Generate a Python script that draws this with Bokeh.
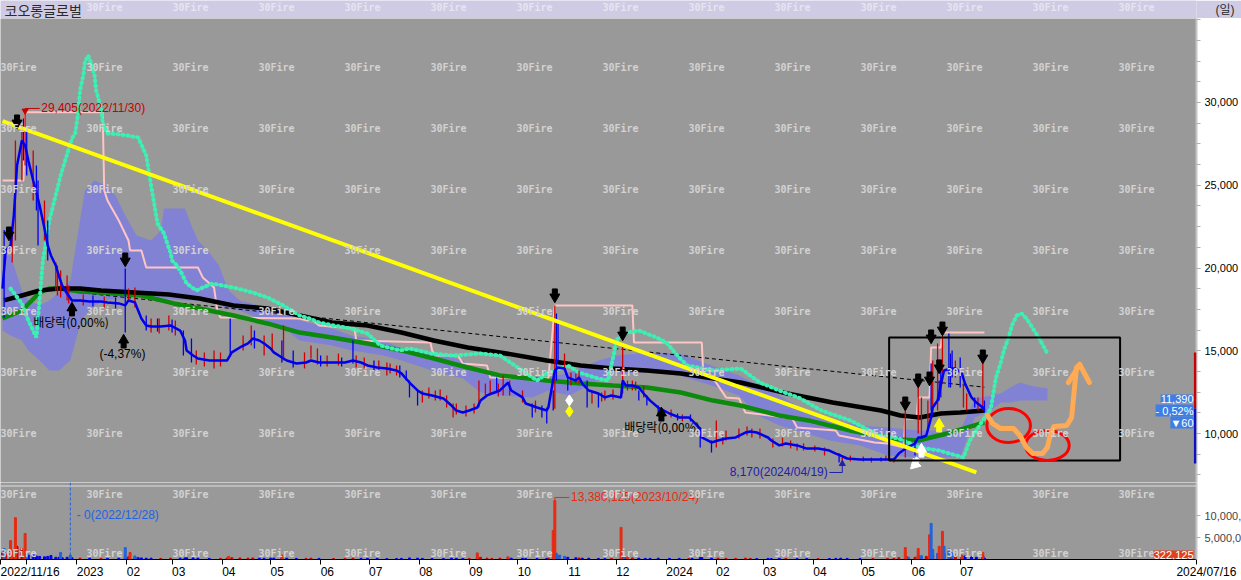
import pandas as pd
from bokeh.plotting import figure
from bokeh.layouts import column
from bokeh.models import (Range1d, FixedTicker, NumeralTickFormatter, Label, BoxAnnotation, Span,
                          AllLabels)
from bokeh.core.properties import value
from bokeh.embed import file_html
from bokeh.resources import INLINE

# ---------------------------------------------------------------- data
START_DATE = "2022-11-16"
TITLE = "코오롱글로벌"
PERIOD = "(일)"

# (date, close, volume in millions)
close_series = [
    ("2022-11-16", 18760, 1.5), ("2022-11-18", 21060, 1.2), ("2022-11-21", 21360, 1.0),
    ("2022-11-23", 23170, 1.5), ("2022-11-25", 26190, 3.0), ("2022-11-28", 27700, 2.5),
    ("2022-11-30", 27400, 1.1), ("2022-12-02", 26500, 1.0), ("2022-12-05", 25290, 1.2),
    ("2022-12-07", 24560, 0.8), ("2022-12-09", 23780, 0.7), ("2022-12-12", 22390, 0.6),
    ("2022-12-14", 21360, 0.7), ("2022-12-16", 20760, 0.9), ("2022-12-19", 20150, 0.5),
    ("2022-12-21", 19490, 0.5), ("2022-12-23", 18940, 0.4), ("2022-12-26", 18460, 0.5),
    ("2022-12-29", 18040, 0.4), ("2023-01-03", 18040, 0.3), ("2023-01-09", 17980, 0.3),
    ("2023-01-16", 17980, 0.25), ("2023-01-20", 17920, 0.25), ("2023-01-27", 17860, 0.3),
    ("2023-01-31", 17740, 0.4), ("2023-02-02", 18040, 0.6), ("2023-02-06", 17920, 0.5),
    ("2023-02-08", 17430, 0.4), ("2023-02-10", 16950, 0.35), ("2023-02-13", 16530, 0.3),
    ("2023-02-16", 16470, 0.3), ("2023-02-22", 16470, 0.25), ("2023-02-28", 16530, 0.3),
    ("2023-03-06", 16220, 0.3), ("2023-03-09", 15620, 0.35), ("2023-03-10", 15020, 0.4),
    ("2023-03-14", 14710, 0.35), ("2023-03-17", 14530, 0.3), ("2023-03-24", 14410, 0.25),
    ("2023-03-31", 14410, 0.25), ("2023-04-04", 14410, 0.3), ("2023-04-07", 14900, 0.4),
    ("2023-04-12", 15200, 0.35), ("2023-04-17", 15440, 0.3), ("2023-04-20", 15740, 0.35),
    ("2023-04-24", 15620, 0.3), ("2023-04-27", 15440, 0.25), ("2023-05-01", 15140, 0.3),
    ("2023-05-03", 14900, 0.3), ("2023-05-08", 14590, 0.35), ("2023-05-11", 14410, 0.3),
    ("2023-05-17", 14230, 0.25), ("2023-05-23", 14290, 0.25), ("2023-05-26", 14410, 0.3),
    ("2023-05-31", 14290, 0.25), ("2023-06-09", 14290, 0.2), ("2023-06-16", 14290, 0.2),
    ("2023-06-21", 14410, 0.3), ("2023-06-26", 14290, 0.25), ("2023-06-30", 14110, 0.25),
    ("2023-07-06", 13990, 0.25), ("2023-07-12", 13930, 0.2), ("2023-07-18", 13810, 0.2),
    ("2023-07-21", 13630, 0.25), ("2023-07-26", 13080, 0.35), ("2023-07-31", 12600, 0.3),
    ("2023-08-03", 12420, 0.25), ("2023-08-09", 12300, 0.2), ("2023-08-16", 12120, 0.2),
    ("2023-08-21", 11690, 0.3), ("2023-08-24", 11390, 0.25), ("2023-08-28", 11270, 0.2),
    ("2023-09-01", 11390, 0.25), ("2023-09-06", 11570, 0.4), ("2023-09-08", 11990, 0.5),
    ("2023-09-12", 12300, 0.3), ("2023-09-15", 12420, 0.25), ("2023-09-20", 12600, 0.3),
    ("2023-09-25", 13080, 0.4), ("2023-09-27", 12600, 0.3), ("2023-10-04", 12180, 0.25),
    ("2023-10-06", 11810, 0.2), ("2023-10-13", 11570, 0.2), ("2023-10-19", 11390, 0.25),
    ("2023-10-20", 11570, 0.3), ("2023-10-24", 13810, 0.5), ("2023-10-26", 13990, 0.9),
    ("2023-10-30", 13930, 0.6), ("2023-11-01", 13390, 0.5), ("2023-11-06", 13200, 0.4),
    ("2023-11-08", 13390, 0.35), ("2023-11-10", 13020, 0.3), ("2023-11-14", 12600, 0.3),
    ("2023-11-20", 12420, 0.25), ("2023-11-24", 12180, 0.2), ("2023-11-28", 12300, 0.25),
    ("2023-12-04", 12180, 0.3), ("2023-12-05", 13200, 0.6), ("2023-12-07", 12900, 0.5),
    ("2023-12-11", 12900, 0.35), ("2023-12-15", 12780, 0.3), ("2023-12-19", 12300, 0.25),
    ("2023-12-22", 11990, 0.25), ("2023-12-27", 11570, 0.3), ("2024-01-03", 11210, 0.25),
    ("2024-01-09", 10970, 0.25), ("2024-01-15", 10970, 0.2), ("2024-01-17", 10790, 0.25),
    ("2024-01-22", 10300, 0.4), ("2024-01-23", 9760, 0.45), ("2024-01-29", 9460, 0.3),
    ("2024-02-02", 9580, 0.3), ("2024-02-07", 9700, 0.25), ("2024-02-13", 9760, 0.25),
    ("2024-02-19", 10060, 0.3), ("2024-02-22", 10120, 0.25), ("2024-02-26", 10060, 0.2),
    ("2024-03-04", 9760, 0.25), ("2024-03-06", 9580, 0.2), ("2024-03-11", 9280, 0.25),
    ("2024-03-15", 9400, 0.2), ("2024-03-22", 9280, 0.2), ("2024-03-28", 9090, 0.2),
    ("2024-04-04", 9090, 0.2), ("2024-04-11", 8970, 0.2), ("2024-04-15", 8790, 0.25),
    ("2024-04-18", 8670, 0.3), ("2024-04-22", 8490, 0.25), ("2024-04-30", 8430, 0.2),
    ("2024-05-08", 8430, 0.2), ("2024-05-17", 8430, 0.2), ("2024-05-21", 8430, 0.25),
    ("2024-05-24", 8790, 0.4), ("2024-05-29", 9150, 0.6), ("2024-06-03", 9390, 0.5),
    ("2024-06-05", 9760, 1.0), ("2024-06-07", 9760, 0.8), ("2024-06-10", 9880, 0.7),
    ("2024-06-13", 10970, 1.2), ("2024-06-14", 11570, 1.0), ("2024-06-17", 11990, 1.3),
    ("2024-06-20", 13380, 1.5), ("2024-06-21", 13810, 1.4), ("2024-06-25", 13930, 1.2),
    ("2024-06-28", 13930, 1.0), ("2024-07-02", 13630, 0.9), ("2024-07-04", 13020, 0.8),
    ("2024-07-08", 12180, 0.6), ("2024-07-11", 11870, 0.5), ("2024-07-15", 11570, 0.8),
    ("2024-07-16", 11390, 0.32),
]

# (date, high, low, up-day)
wicks = [
    ("2022-11-17", 22300, 17000, 0), ("2022-11-22", 22270, 20330, 1), ("2022-11-24", 27700, 21660, 1),
    ("2022-11-28", 28610, 25290, 1), ("2022-11-29", 29030, 26500, 0), ("2022-11-30", 29405, 26190, 1),
    ("2022-12-01", 28310, 25590, 0), ("2022-12-05", 27100, 24080, 1), ("2022-12-07", 26190, 23470, 0),
    ("2022-12-08", 25290, 21360, 0), ("2022-12-12", 24080, 21660, 1), ("2022-12-14", 22870, 20450, 0),
    ("2022-12-19", 20330, 18640, 1), ("2022-12-20", 20150, 18340, 1), ("2022-12-22", 19850, 18220, 1),
    ("2022-12-26", 19550, 18040, 1), ("2022-12-27", 18940, 17860, 1), ("2023-01-05", 18400, 17740, 1),
    ("2023-01-11", 18340, 17680, 0), ("2023-01-18", 18280, 17620, 1), ("2023-01-25", 18220, 17560, 0),
    ("2023-01-31", 19970, 16100, 0), ("2023-02-02", 18760, 18040, 1),
    ("2023-02-06", 18820, 17620, 1), ("2023-02-13", 17130, 16220, 0), ("2023-02-16", 16950, 16100, 1),
    ("2023-02-20", 16950, 16170, 0), ("2023-03-01", 16890, 16100, 0),
    ("2023-02-21", 16950, 16040, 1), ("2023-02-27", 17130, 16220, 1), ("2023-03-03", 16830, 15920, 1),
    ("2023-03-08", 16220, 14710, 0), ("2023-03-13", 15740, 14290, 0), ("2023-03-16", 15020, 14170, 1),
    ("2023-03-21", 14900, 14050, 1), ("2023-03-27", 15020, 13930, 1), ("2023-03-31", 14900, 14050, 1),
    ("2023-04-06", 16950, 14650, 0), ("2023-04-14", 15920, 15020, 1), ("2023-04-19", 16530, 15320, 1),
    ("2023-04-21", 16220, 15140, 0), ("2023-04-27", 15920, 14710, 1), ("2023-05-02", 16040, 15020, 1),
    ("2023-05-08", 15620, 14290, 0), ("2023-05-09", 16530, 14410, 1), ("2023-05-15", 15020, 13990, 0),
    ("2023-05-22", 14900, 13930, 1), ("2023-05-26", 15320, 14530, 1), ("2023-05-30", 15140, 14170, 1),
    ("2023-06-01", 14710, 14050, 0), ("2023-06-05", 14710, 14050, 1), ("2023-06-12", 14830, 14110, 1),
    ("2023-06-14", 14590, 14050, 0), ("2023-06-21", 15620, 14230, 0), ("2023-06-23", 14710, 13990, 1),
    ("2023-06-28", 14590, 13930, 1), ("2023-07-04", 14410, 13810, 0), ("2023-07-07", 14410, 13690, 1),
    ("2023-07-12", 14290, 13510, 1), ("2023-07-14", 14230, 13630, 1), ("2023-07-18", 14110, 13510, 1),
    ("2023-07-20", 14110, 13380, 0), ("2023-07-24", 13810, 13200, 0),
    ("2023-07-26", 13200, 12180, 0), ("2023-07-31", 12660, 11690, 0), ("2023-08-03", 12600, 11870, 1),
    ("2023-08-07", 12780, 12120, 1), ("2023-08-11", 12600, 11990, 1), ("2023-08-14", 12660, 11990, 1),
    ("2023-08-18", 12300, 11570, 1), ("2023-08-22", 11810, 10970, 1), ("2023-08-24", 11810, 11150, 1),
    ("2023-08-30", 11690, 11030, 1), ("2023-09-04", 11810, 11210, 1), ("2023-09-07", 13200, 11570, 1),
    ("2023-09-11", 13020, 12300, 1), ("2023-09-14", 13200, 12300, 1), ("2023-09-18", 13380, 12480, 0),
    ("2023-09-19", 13020, 12240, 1), ("2023-09-22", 13510, 12300, 1), ("2023-09-26", 13200, 12300, 1),
    ("2023-10-04", 12600, 11870, 1), ("2023-10-10", 11810, 10970, 0), ("2023-10-12", 11990, 11270, 1),
    ("2023-10-16", 11690, 10970, 0), ("2023-10-19", 11570, 10610, 0), ("2023-10-23", 12600, 11390, 0),
    ("2023-10-24", 17740, 11500, 1), ("2023-10-25", 17250, 13200, 0), ("2023-10-26", 16650, 14410, 0),
    ("2023-10-30", 14830, 13810, 1), ("2023-11-01", 13380, 12600, 0), ("2023-11-03", 13690, 12900, 1),
    ("2023-11-06", 13630, 13020, 1),
    ("2023-11-08", 13810, 13020, 1), ("2023-11-13", 13200, 11570, 0), ("2023-11-16", 12600, 11810, 1),
    ("2023-11-20", 12420, 11570, 0), ("2023-11-22", 12480, 11930, 1), ("2023-11-24", 12600, 11990, 1),
    ("2023-11-29", 12660, 12060, 1), ("2023-12-05", 15440, 12420, 1),
    ("2023-12-08", 13200, 12600, 1), ("2023-12-11", 13200, 12600, 1), ("2023-12-13", 13140, 12600, 1),
    ("2023-12-15", 12600, 11990, 0), ("2023-12-18", 12900, 12180, 1),
    ("2023-12-20", 12300, 11690, 0), ("2023-12-27", 11690, 11150, 0), ("2024-01-04", 11450, 10970, 1),
    ("2024-01-08", 11210, 10790, 0), ("2024-01-11", 11150, 10730, 1),
    ("2024-01-16", 11150, 10730, 0), ("2024-01-22", 10360, 9150, 0), ("2024-01-29", 9580, 8850, 0),
    ("2024-02-01", 10790, 9150, 1), ("2024-02-05", 9940, 9340, 1), ("2024-02-07", 10180, 9580, 1),
    ("2024-02-15", 10300, 9700, 1), ("2024-02-20", 10420, 9880, 1),
    ("2024-02-23", 10300, 9760, 1), ("2024-02-28", 10300, 9700, 1), ("2024-03-07", 9700, 9150, 1),
    ("2024-03-13", 9760, 9220, 1), ("2024-03-18", 9580, 9100, 1),
    ("2024-03-22", 9400, 8970, 1), ("2024-03-26", 9400, 8970, 1), ("2024-04-02", 9280, 8910, 1),
    ("2024-04-08", 9160, 8670, 1), ("2024-04-17", 8790, 8250, 0),
    ("2024-04-19", 8550, 8170, 1), ("2024-04-24", 8670, 8310, 1), ("2024-05-02", 8610, 8310, 1),
    ("2024-05-07", 8550, 8250, 1), ("2024-05-13", 8550, 8310, 0), ("2024-05-16", 8670, 8370, 1),
    ("2024-05-21", 8550, 8250, 1),
    ("2024-05-28", 11390, 8550, 1), ("2024-06-03", 9580, 8670, 0), ("2024-06-05", 12780, 10000, 1),
    ("2024-06-07", 12180, 9760, 1), ("2024-06-11", 11990, 10180, 1), ("2024-06-13", 14230, 11390, 0),
    ("2024-06-14", 14410, 11570, 1), ("2024-06-17", 15440, 11390, 1), ("2024-06-18", 13200, 11990, 0),
    ("2024-06-19", 13990, 12180, 0), ("2024-06-20", 16220, 13020, 1), ("2024-06-24", 16040, 12780, 0),
    ("2024-06-25", 14830, 12780, 0), ("2024-06-26", 15020, 13380, 0), ("2024-06-28", 14410, 13380, 1),
    ("2024-07-01", 14590, 12780, 0), ("2024-07-03", 13020, 11570, 1), ("2024-07-05", 12420, 11390, 1),
    ("2024-07-10", 12180, 11570, 0), ("2024-07-12", 12180, 11390, 1), ("2024-07-15", 14230, 11390, 1),
    ("2024-07-16", 11990, 11270, 0),
]

# long moving average (black)
ma_long = [
    ("2022-11-17", 18040), ("2022-11-28", 18340), ("2022-12-09", 18640), ("2022-12-21", 18760),
    ("2023-01-03", 18760), ("2023-01-16", 18640), ("2023-02-06", 18520), ("2023-02-27", 18400),
    ("2023-03-18", 18160), ("2023-04-08", 17730), ("2023-04-29", 17550), ("2023-05-19", 17130),
    ("2023-06-08", 16710), ("2023-06-30", 16530), ("2023-07-21", 16100), ("2023-08-10", 15620),
    ("2023-08-31", 15200), ("2023-09-20", 14900), ("2023-10-19", 14410), ("2023-11-09", 14110),
    ("2023-11-29", 13930), ("2023-12-20", 13810), ("2024-01-10", 13630), ("2024-01-30", 13320),
    ("2024-02-16", 13080), ("2024-03-16", 12420), ("2024-04-13", 11870), ("2024-05-13", 11390),
    ("2024-05-25", 11090), ("2024-06-06", 10970), ("2024-06-19", 11210), ("2024-07-01", 11270),
    ("2024-07-16", 11390),
]

# middle moving average (green)
ma_mid = [
    ("2022-11-16", 16950), ("2022-11-28", 17430), ("2022-12-09", 18520), ("2022-12-15", 18760),
    ("2022-12-21", 18760), ("2023-01-03", 18580), ("2023-01-16", 18520), ("2023-02-10", 18340),
    ("2023-03-02", 17860), ("2023-03-18", 17550), ("2023-04-08", 17130), ("2023-04-29", 16650),
    ("2023-05-19", 16100), ("2023-06-08", 15800), ("2023-06-30", 15440), ("2023-07-21", 15020),
    ("2023-08-10", 14530), ("2023-08-31", 13990), ("2023-09-20", 13510), ("2023-10-19", 13200),
    ("2023-11-09", 13020), ("2023-11-29", 12900), ("2023-12-20", 12780), ("2024-01-10", 12480),
    ("2024-01-30", 11990), ("2024-02-16", 11690), ("2024-03-11", 11090), ("2024-03-29", 10790),
    ("2024-04-24", 10180), ("2024-05-13", 9820), ("2024-05-25", 9640), ("2024-06-05", 9580),
    ("2024-06-23", 10000), ("2024-07-03", 10300), ("2024-07-16", 10670),
]

# forward-shifted line (mint dots)
lead_line = [
    ("2022-11-21", 18760), ("2022-11-28", 17850), ("2022-12-02", 16830), ("2022-12-07", 15800),
    ("2022-12-11", 20450), ("2022-12-15", 22870), ("2022-12-22", 25590), ("2022-12-29", 27830),
    ("2022-12-31", 28130), ("2023-01-02", 29460), ("2023-01-03", 30730), ("2023-01-05", 31630),
    ("2023-01-06", 32420), ("2023-01-08", 32840), ("2023-01-10", 32360), ("2023-01-12", 31630),
    ("2023-01-13", 30730), ("2023-01-16", 29640), ("2023-01-17", 28790), ("2023-01-20", 28130),
    ("2023-01-28", 28070), ("2023-02-08", 27890), ("2023-02-13", 26800), ("2023-02-16", 24990),
    ("2023-02-20", 22690), ("2023-02-24", 22090), ("2023-02-26", 21480), ("2023-02-28", 20940),
    ("2023-03-01", 20450), ("2023-03-04", 20150), ("2023-03-07", 19670), ("2023-03-10", 19060),
    ("2023-03-16", 18640), ("2023-03-20", 18820), ("2023-03-26", 19060), ("2023-04-08", 18820),
    ("2023-04-20", 18520), ("2023-04-29", 18220), ("2023-05-09", 17730), ("2023-05-19", 17130),
    ("2023-05-25", 16950), ("2023-05-31", 16710), ("2023-06-09", 16530), ("2023-06-19", 16350),
    ("2023-06-30", 16040), ("2023-07-08", 15320), ("2023-07-20", 15020), ("2023-07-26", 15140),
    ("2023-08-09", 14830), ("2023-08-22", 14710), ("2023-09-08", 14830), ("2023-09-20", 14710),
    ("2023-10-02", 13930), ("2023-10-13", 13200), ("2023-10-19", 13630), ("2023-11-01", 14110),
    ("2023-11-08", 13690), ("2023-11-20", 13320), ("2023-11-26", 13200), ("2023-11-30", 15020),
    ("2023-12-01", 15620), ("2023-12-05", 16040), ("2023-12-15", 16220), ("2023-12-26", 15800),
    ("2024-01-01", 15500), ("2024-01-09", 14590), ("2024-01-14", 14110), ("2024-01-30", 13810),
    ("2024-02-16", 13930), ("2024-02-28", 13080), ("2024-03-11", 12600), ("2024-03-24", 12120),
    ("2024-04-06", 11390), ("2024-04-24", 10790), ("2024-05-12", 9880), ("2024-05-24", 9700),
    ("2024-06-06", 9150), ("2024-06-18", 8970), ("2024-07-03", 8550), ("2024-07-07", 9580),
    ("2024-07-11", 10180), ("2024-07-15", 10790), ("2024-07-20", 11510), ("2024-07-23", 13320),
    ("2024-07-26", 14230), ("2024-07-28", 15020), ("2024-07-31", 15800), ("2024-08-02", 16530),
    ("2024-08-05", 17130), ("2024-08-08", 17250), ("2024-08-11", 16950), ("2024-08-15", 16350),
    ("2024-08-19", 15740), ("2024-08-24", 14830),
]

# stepped high line (pink)
step_line = [
    ("2022-11-16", 25290), ("2022-11-29", 25290), ("2022-11-30", 29405), ("2023-01-17", 29405),
    ("2023-01-18", 24680), ("2023-01-20", 24080), ("2023-01-27", 22870), ("2023-02-02", 21660),
    ("2023-02-03", 21060), ("2023-02-10", 21060), ("2023-02-13", 20030), ("2023-03-17", 20030),
    ("2023-03-20", 19430), ("2023-03-27", 18820), ("2023-03-29", 17430), ("2023-03-31", 17010),
    ("2023-05-19", 16950), ("2023-05-24", 16830), ("2023-05-26", 16950), ("2023-05-31", 16530),
    ("2023-06-22", 16350), ("2023-06-23", 15620), ("2023-08-08", 15500), ("2023-08-09", 15020),
    ("2023-08-11", 14710), ("2023-08-25", 14710), ("2023-08-28", 14230), ("2023-09-12", 14110),
    ("2023-09-14", 13380), ("2023-10-20", 13320), ("2023-10-24", 17740), ("2023-12-11", 17740),
    ("2023-12-12", 15500), ("2024-01-23", 15500), ("2024-01-24", 13380), ("2024-01-31", 13200),
    ("2024-02-07", 12180), ("2024-02-15", 12120), ("2024-02-19", 11270), ("2024-03-19", 10910),
    ("2024-03-22", 10360), ("2024-04-15", 10180), ("2024-04-17", 9880), ("2024-05-09", 9460),
    ("2024-05-17", 9400), ("2024-05-27", 9150), ("2024-05-28", 10910), ("2024-06-04", 10910),
    ("2024-06-05", 12180), ("2024-06-12", 12180), ("2024-06-13", 15200), ("2024-06-19", 15200),
    ("2024-06-20", 16100), ("2024-07-16", 16100),
]

# cloud (date, upper span, lower span)
cloud = [
    ("2022-11-16", 20760, 16220), ("2022-11-21", 20760, 15920), ("2022-11-28", 18640, 15620),
    ("2022-12-02", 18040, 15020), ("2022-12-09", 17730, 14410), ("2022-12-15", 18040, 13810),
    ("2022-12-21", 18520, 13810), ("2022-12-28", 19250, 14410), ("2023-01-02", 22270, 16220),
    ("2023-01-06", 24680, 17130), ("2023-01-12", 25290, 17730), ("2023-01-19", 24990, 18040),
    ("2023-01-25", 24380, 18160), ("2023-01-31", 23170, 18160), ("2023-02-07", 21960, 18220),
    ("2023-02-16", 21660, 18220), ("2023-02-22", 22270, 18220), ("2023-02-24", 23600, 18160),
    ("2023-03-09", 23600, 18040), ("2023-03-13", 22570, 18040), ("2023-03-17", 21660, 18040),
    ("2023-03-24", 20940, 17920), ("2023-03-30", 20150, 17730), ("2023-04-05", 18640, 17550),
    ("2023-04-12", 18040, 17430), ("2023-04-24", 17730, 16950), ("2023-05-07", 17430, 16530),
    ("2023-05-19", 16830, 15620), ("2023-06-08", 16350, 15320), ("2023-06-20", 15920, 15020),
    ("2023-07-10", 15620, 14710), ("2023-07-21", 15140, 14410), ("2023-08-09", 14900, 13810),
    ("2023-08-28", 14410, 13320), ("2023-09-08", 13810, 12480), ("2023-09-20", 13510, 12300),
    ("2023-10-10", 13380, 12180), ("2023-10-20", 13380, 12600), ("2023-11-02", 13690, 12300),
    ("2023-11-20", 14410, 13200), ("2023-12-01", 14710, 13630), ("2023-12-21", 14900, 13690),
    ("2024-01-09", 14830, 13510), ("2024-01-29", 14110, 12900), ("2024-02-15", 13510, 12300),
    ("2024-02-27", 12900, 11090), ("2024-03-11", 12300, 10480), ("2024-03-22", 11690, 10180),
    ("2024-04-11", 10910, 9580), ("2024-04-30", 10480, 9280), ("2024-05-17", 10360, 8670),
    ("2024-06-05", 10180, 8550), ("2024-07-01", 10180, 8550), ("2024-07-10", 12120, 10970),
    ("2024-07-20", 12300, 11390), ("2024-07-26", 12420, 11870), ("2024-08-01", 12780, 11870),
    ("2024-08-07", 13080, 11990), ("2024-08-13", 12900, 11990), ("2024-08-24", 12720, 11990),
]

# volume spikes (date, volume in millions, up-day)
vol_spikes = [
    ("2022-11-17", 2.5, 0), ("2022-11-21", 4.3, 1), ("2022-11-22", 2.0, 1), ("2022-11-24", 9.5, 1),
    ("2022-11-30", 5.9, 1), ("2022-12-01", 1.4, 0), ("2022-12-22", 1.6, 0), ("2022-12-28", 1.0, 0),
    ("2023-01-31", 2.7, 0), ("2023-02-03", 1.6, 1), ("2023-02-06", 0.8, 0), ("2023-04-05", 0.7, 1),
    ("2023-05-08", 1.0, 1), ("2023-09-06", 1.5, 1), ("2023-09-25", 0.6, 1), ("2023-10-23", 6.6, 1),
    ("2023-10-24", 13.38, 1), ("2023-10-25", 1.4, 0), ("2023-10-27", 1.0, 0), ("2023-10-30", 0.7, 0),
    ("2023-12-04", 7.3, 1), ("2023-12-06", 0.8, 0), ("2023-12-08", 0.6, 1), ("2024-05-28", 2.7, 1),
    ("2024-05-30", 0.5, 0), ("2024-06-05", 2.5, 1), ("2024-06-07", 0.8, 0), ("2024-06-12", 5.6, 1),
    ("2024-06-13", 8.2, 0), ("2024-06-14", 2.3, 0), ("2024-06-17", 1.3, 0), ("2024-06-18", 3.0, 1),
    ("2024-06-20", 6.4, 1), ("2024-06-21", 3.0, 0), ("2024-06-24", 2.4, 0), ("2024-06-26", 1.5, 0),
    ("2024-07-02", 1.0, 1), ("2024-07-15", 1.6, 1),
]

# drawn trend lines
trend_yellow = [("2022-11-16", 28870), ("2024-07-11", 7645)]
trend_dashed = [("2023-01-02", 18520), ("2024-07-16", 12800)]

# signal arrows (date, tip price)
down_arrows = [("2022-11-20", 21780), ("2022-11-25", 28550), ("2023-01-31", 20210),
               ("2023-10-24", 18040), ("2023-12-05", 15740), ("2024-05-28", 11510),
               ("2024-06-05", 12900), ("2024-06-12", 13020), ("2024-06-13", 15560),
               ("2024-06-18", 13750), ("2024-06-20", 16040), ("2024-07-15", 14350)]
up_arrows = [("2022-12-29", 17800), ("2023-01-30", 15860), ("2023-12-29", 11450)]

# price notes (date, price, text, colour, align)
price_notes = [
    ("2022-12-10", 29640, "29,405(2022/11/30)", "#c80000", "left"),
    ("2022-12-05", 16770, "배당락(0,00%)", "#000000", "left"),
    ("2023-01-15", 14830, "(-4,37%)", "#000000", "left"),
    ("2023-12-06", 10420, "배당락(0,00%)", "#000000", "left"),
    ("2024-04-10", 7645, "8,170(2024/04/19)", "#2020b0", "right"),
]
hi_leader = [("2022-11-30", 29405), ("2022-11-30", 29640), ("2022-12-09", 29640)]
lo_leader = [("2024-04-11", 7645), ("2024-04-19", 7645), ("2024-04-19", 8080)]

# hand-drawn scenario sketch
sketch_box = [("2024-05-18", 15800), ("2024-10-08", 8370)]
sketch_ellipses = [("2024-07-31", 10480, 27, 2050), ("2024-08-24", 9280, 27, 1810)]
sketch_path = [("2024-07-18", 11090), ("2024-07-21", 10610), ("2024-07-26", 10300), ("2024-08-03", 10300),
               ("2024-08-07", 9880), ("2024-08-11", 9160), ("2024-08-15", 8790), ("2024-08-21", 8790),
               ("2024-08-24", 9160), ("2024-08-26", 10000), ("2024-08-28", 10420), ("2024-09-05", 10480),
               ("2024-09-08", 10970), ("2024-09-09", 11990), ("2024-09-11", 13990), ("2024-09-13", 14170)]
sketch_head = [("2024-09-06", 13080), ("2024-09-13", 14170), ("2024-09-19", 13080)]

LAST_CLOSE, LAST_CHG, LAST_PCT = 11390, -60, "- 0,52%"
LAST_VOL = "322,125"
RANGE_BAR = (14900, 11510, 8190)
VOL_NOTE = ("2023-11-03", 14.1, "13,380,125(2023/10/24)")
ZERO_NOTE = ("2022-12-28", "2023-01-01", 10.2, "- 0(2022/12/28)")
LAST_DATE_LABEL = "2024/07/16"
FIRST_DATE_LABEL = "2022/11/16"

# ---------------------------------------------------------------- helpers
T0 = pd.Timestamp(START_DATE)


def day(s):
    return (pd.Timestamp(s) - T0).days


def days(rows):
    return [day(r[0]) for r in rows]


def col(rows, i):
    return [r[i] for r in rows]


TOTAL_W = 1241
TITLE_H = 18
FRAME_W, PRICE_H, VOL_H = 1196, 464, 77
RIGHT_W = TOTAL_W - FRAME_W
PX_PER_DAY = 1.615
X0 = -1.24
X1 = X0 + FRAME_W / PX_PER_DAY
P_LO, P_HI = 7040, 35075
PPX = (P_HI - P_LO) / PRICE_H      # price per pixel
VOL_PX_PER_M = 4.4
V_HI = VOL_H / VOL_PX_PER_M * 1e6
VPX = V_HI / VOL_H                 # volume per pixel
PRICE_TOP = TITLE_H
VOL_TOP = TITLE_H + PRICE_H
VOL_BASE = VOL_TOP + VOL_H

RED, BLUE = "#d00000", "#0000f0"
GRAY_BG = "#999999"
WM_COLOR = "#d2d2d2"
LAVENDER = "#cfcbe4"
MONO = value("DejaVu Sans Mono")
SANS = value("Liberation Sans")
KR = value("Noto Sans CJK KR")


def wm_day(px):
    return X0 + px / PX_PER_DAY


# ---------------------------------------------------------------- title bar
t = figure(frame_width=FRAME_W, frame_height=TITLE_H, x_range=Range1d(0, FRAME_W),
           y_range=Range1d(0, TITLE_H), output_backend="svg", toolbar_location=None,
           x_axis_location=None, y_axis_location="right", min_border=0,
           min_border_right=RIGHT_W, background_fill_color=LAVENDER,
           border_fill_color=LAVENDER, outline_line_color=None)
t.grid.visible = False
wm_t = [86 * k for k in range(1, 14)]
t.text(x=wm_t, y=[TITLE_H - 7] * len(wm_t), text=["30Fire"] * len(wm_t), text_font=MONO,
       text_font_style="bold", text_font_size="10px", text_color="#e6e4f0", text_baseline="middle")
t.text(x=[4], y=[TITLE_H / 2], text=[TITLE], text_font=KR, text_font_size="14px",
       text_color="#2a2a2a", text_baseline="middle")
ta = t.yaxis[0]
ta.ticker = FixedTicker(ticks=[TITLE_H / 2])
ta.major_label_overrides = {TITLE_H / 2: PERIOD}
ta.major_label_text_font = "Liberation Sans, Noto Sans CJK KR"
ta.major_label_text_font_size = "12px"
ta.major_label_text_color = "#2a2a2a"
ta.major_label_standoff = 19
ta.axis_line_color = None
ta.major_tick_line_color = None
ta.minor_tick_line_color = None
ta.major_tick_out = 0
ta.major_tick_in = 0

# ---------------------------------------------------------------- price panel
p = figure(frame_width=FRAME_W, frame_height=PRICE_H, x_range=Range1d(X0, X1),
           y_range=Range1d(P_LO, P_HI), output_backend="svg", toolbar_location=None,
           x_axis_location=None, y_axis_location="right", min_border_left=0, min_border_top=0,
           min_border_bottom=0, min_border_right=RIGHT_W, background_fill_color=GRAY_BG,
           border_fill_color="white", outline_line_color=None)
p.grid.visible = False

ya = p.yaxis[0]
ya.ticker = FixedTicker(ticks=[10000, 15000, 20000, 25000, 30000],
                        minor_ticks=[7500 + 1250 * i for i in range(23)])
ya.formatter = NumeralTickFormatter(format="0,0")
ya.major_label_text_font = "Liberation Sans"
ya.major_label_text_font_size = "11px"
ya.major_label_text_color = "black"
ya.major_label_standoff = 4
ya.major_tick_out = 4
ya.major_tick_in = 0
ya.minor_tick_out = 4
ya.minor_tick_in = 0
ya.axis_line_color = "#c4c4c4"
ya.axis_line_width = 2
ya.major_tick_line_color = "#b0b0b0"
ya.minor_tick_line_color = "#b0b0b0"

# cloud
p.varea(x=days(cloud), y1=col(cloud, 2), y2=col(cloud, 1), fill_color="#8282d4", fill_alpha=1)

# trend (dashed) and indicator lines
p.line(x=days(trend_dashed), y=col(trend_dashed, 1), line_color="black", line_width=1,
       line_dash="4 3")
p.line(x=days(step_line), y=col(step_line, 1), line_color="#ffc4c4", line_width=2)
p.line(x=days(ma_mid), y=col(ma_mid, 1), line_color="#0b8a0b", line_width=4.5)
p.line(x=days(ma_long), y=col(ma_long, 1), line_color="black", line_width=4.5)
p.line(x=days(lead_line), y=col(lead_line, 1), line_color="#3cf0b4", line_width=4,
       line_dash="1 4", line_cap="round")

# candles + close line
wd = days(wicks)
p.segment(x0=wd, y0=col(wicks, 2), x1=wd, y1=col(wicks, 1),
          line_color=[RED if u else BLUE for u in col(wicks, 3)], line_width=1.3)
p.line(x=days(close_series), y=col(close_series, 1), line_color="#0000ee", line_width=2.5)

# yellow trend line
p.line(x=days(trend_yellow), y=col(trend_yellow, 1), line_color="#ffff00", line_width=4)

# arrows
dx = days(down_arrows)
dy = col(down_arrows, 1)
p.scatter(x=dx, y=[v + 3.5 * PPX for v in dy], marker="inverted_triangle", size=10, color="black")
p.scatter(x=dx, y=[v + 9 * PPX for v in dy], marker="square", size=5, color="black")
ux = days(up_arrows)
uy = col(up_arrows, 1)
p.scatter(x=ux, y=[v - 3.5 * PPX for v in uy], marker="triangle", size=10, color="black")
p.scatter(x=ux, y=[v - 9 * PPX for v in uy], marker="square", size=5, color="black")

# signal diamonds / coloured arrows
p.scatter(x=[day("2023-11-02")], y=[12000], marker="diamond", size=11, color="white")
p.scatter(x=[day("2023-11-02")], y=[11330], marker="diamond", size=11, color="#ffff00")
p.scatter(x=[day("2024-06-07")], y=[9270 - 3.5 * PPX], marker="triangle", size=10, color="white")
p.scatter(x=[day("2024-06-07")], y=[9270 - 9 * PPX], marker="square", size=5, color="white")
p.scatter(x=[day("2024-06-18")], y=[10790 - 3.5 * PPX], marker="triangle", size=10, color="#ffff00")
p.scatter(x=[day("2024-06-18")], y=[10790 - 9 * PPX], marker="square", size=5, color="#ffff00")
p.scatter(x=[day("2024-06-03")], y=[8130], marker="inverted_triangle", size=11, angle=-0.785,
          color="white")
p.scatter(x=[day("2024-06-04")], y=[8130 + 4 * PPX], marker="square", size=5, angle=0.785,
          color="white")

# notes
p.line(x=days(hi_leader), y=col(hi_leader, 1), line_color="#c80000", line_width=1)
p.scatter(x=[day(hi_leader[0][0])], y=[hi_leader[0][1] + 1.5 * PPX], marker="inverted_triangle",
          size=6, color="#c80000")
p.line(x=days(lo_leader), y=col(lo_leader, 1), line_color="#2020b0", line_width=1)
p.scatter(x=[day(lo_leader[-1][0])], y=[lo_leader[-1][1] + 1.5 * PPX], marker="triangle",
          size=6, color="#2020b0")
for d, v, txt, c, al in price_notes:
    is_kr = any(ord(ch) > 0x3000 for ch in txt)
    p.text(x=[day(d)], y=[v], text=[txt], text_font=KR if is_kr else SANS,
           text_font_size="12px", text_color=c, text_align=al, text_baseline="middle")

# hand-drawn scenario
(bx0, by0), (bx1, by1) = sketch_box
p.quad(left=[day(bx0)], right=[day(bx1)], top=[by0], bottom=[by1], fill_alpha=0,
       line_color="black", line_width=2)
p.ellipse(x=days(sketch_ellipses), y=col(sketch_ellipses, 1), width=col(sketch_ellipses, 2),
          height=col(sketch_ellipses, 3), fill_alpha=0, line_color="#ff0000", line_width=3)
p.line(x=days(sketch_path), y=col(sketch_path, 1), line_color="#ffaa55", line_width=5,
       line_join="round", line_cap="round")
p.line(x=days(sketch_head), y=col(sketch_head, 1), line_color="#ffaa55", line_width=5,
       line_join="round", line_cap="round")

# right-edge price range bar + last price tag
p.add_layout(BoxAnnotation(left=X1 - 1.6, right=X1, bottom=RANGE_BAR[1], top=RANGE_BAR[0],
                           fill_color="#cc0000", fill_alpha=1, line_color=None))
p.add_layout(BoxAnnotation(left=X1 - 1.6, right=X1, bottom=RANGE_BAR[2], top=RANGE_BAR[1],
                           fill_color="#1010c0", fill_alpha=1, line_color=None))
for txt, off in [(f"{LAST_CLOSE:,}", 12), (LAST_PCT, 0), (f"▼{abs(LAST_CHG)}", -12)]:
    p.add_layout(Label(x=X1, y=LAST_CLOSE, x_offset=-3, y_offset=off, text=txt,
                       text_font="Liberation Sans", text_font_size="11px", text_color="white",
                       text_align="right", text_baseline="middle",
                       background_fill_color="#3d7fe6"))

# watermark
wm_cols = [86 * k for k in range(0, 14)]
wm_rows = [67, 128, 189, 250, 311, 372, 433]
wx, wy = [], []
for r in wm_rows:
    for c in wm_cols:
        wx.append(wm_day(c))
        wy.append(P_HI - (r - PRICE_TOP) * PPX)
p.text(x=wx, y=wy, text=["30Fire"] * len(wx), text_font=MONO, text_font_style="bold",
       text_font_size="10px", text_color=WM_COLOR, text_baseline="middle")

# ---------------------------------------------------------------- volume panel
v = figure(frame_width=FRAME_W, frame_height=VOL_H, x_range=p.x_range, y_range=Range1d(0, V_HI),
           output_backend="svg", toolbar_location=None, y_axis_location="right",
           min_border_left=0, min_border_top=0, min_border_bottom=0, min_border_right=RIGHT_W,
           background_fill_color=GRAY_BG, border_fill_color="white", outline_line_color=None)
v.grid.visible = False
v.add_layout(Span(location=(VOL_BASE - (VOL_TOP + 3.5)) * VPX, dimension="width",
                  line_color="#dedede", line_width=1))

cd = days(close_series)
cc = col(close_series, 1)
cv = [x * 1e6 for x in col(close_series, 2)]
ccol = [RED if i == 0 or cc[i] >= cc[i - 1] else BLUE for i in range(len(cc))]
v.vbar(x=cd, top=cv, width=1.2, color=ccol)
v.vbar(x=days(vol_spikes), top=[x * 1e6 for x in col(vol_spikes, 1)], width=1.2,
       color=["#e82a10" if u else "#1f63e0" for u in col(vol_spikes, 2)])

v.add_layout(Span(location=day(ZERO_NOTE[0]), dimension="height", line_color="#1f63e0",
                  line_dash="3 2", line_width=1))
v.text(x=[day(ZERO_NOTE[1])], y=[ZERO_NOTE[2] * 1e6], text=[ZERO_NOTE[3]], text_font=SANS,
       text_font_size="12px", text_color="#1f63e0", text_baseline="middle")
big = max(vol_spikes, key=lambda r: r[1])
v.line(x=[day(big[0]), day(big[0]), day(VOL_NOTE[0]) - 1],
       y=[big[1] * 1e6, VOL_NOTE[1] * 1e6, VOL_NOTE[1] * 1e6], line_color="#e82a10", line_width=1)
v.text(x=[day(VOL_NOTE[0])], y=[VOL_NOTE[1] * 1e6], text=[VOL_NOTE[2]], text_font=SANS,
       text_font_size="12px", text_color="#e82a10", text_baseline="middle")

vw_x, vw_y = [], []
for r in [494, 553]:
    for c in wm_cols:
        vw_x.append(wm_day(c))
        vw_y.append((VOL_BASE - r) * VPX)
v.text(x=vw_x, y=vw_y, text=["30Fire"] * len(vw_x), text_font=MONO, text_font_style="bold",
       text_font_size="10px", text_color=WM_COLOR, text_baseline="middle")

va = v.yaxis[0]
va.ticker = FixedTicker(ticks=[5e6, 1e7])
va.major_label_overrides = {5000000: "5,000,0", 10000000: "10,000,"}
va.major_label_text_font = "Liberation Sans"
va.major_label_text_font_size = "11px"
va.major_label_standoff = 4
va.major_tick_out = 4
va.major_tick_in = 0
va.axis_line_color = "#c4c4c4"
va.axis_line_width = 2
va.major_tick_line_color = "#b0b0b0"
v.add_layout(Label(x=X1, y=0.2e6, x_offset=-3, text=LAST_VOL, text_font="Liberation Sans",
                   text_font_size="11px", text_color="white", text_align="right",
                   text_baseline="bottom", background_fill_color="#e0401e"))

# x axis: month ticks, labels start at the tick
NB = "\u00a0"


def pad(lbl):
    units = sum(1 if ch in "/,." else 2 for ch in lbl)
    return NB * units + lbl


FIRST_TICK = X0 + 0.05
LAST_TICK = X1 - 0.05
months = pd.date_range("2022-12-01", "2024-07-01", freq="MS")
xticks = [FIRST_TICK] + [day(m) for m in months] + [LAST_TICK]
overrides = {FIRST_TICK: FIRST_DATE_LABEL, LAST_TICK: NB * 6 + LAST_DATE_LABEL}
for m in months:
    if m.month == 12 and m.year == 2022:
        overrides[day(m)] = ""
    elif m.month == 1:
        overrides[day(m)] = pad(str(m.year))
    else:
        overrides[day(m)] = pad(f"{m.month:02d}")
xa = v.xaxis[0]
xa.ticker = FixedTicker(ticks=xticks)
xa.major_label_overrides = overrides
xa.major_label_policy = AllLabels()
xa.major_label_text_font = "Liberation Sans"
xa.major_label_text_font_size = "12px"
xa.major_label_text_color = "black"
xa.major_label_standoff = 0
xa.major_tick_out = 5
xa.major_tick_in = 0
xa.minor_tick_out = 0
xa.minor_tick_in = 0
xa.axis_line_color = "black"
xa.major_tick_line_color = "black"

layout = column(t, p, v, spacing=0)
open("out.html", "w").write(file_html(layout, INLINE, title=TITLE))
